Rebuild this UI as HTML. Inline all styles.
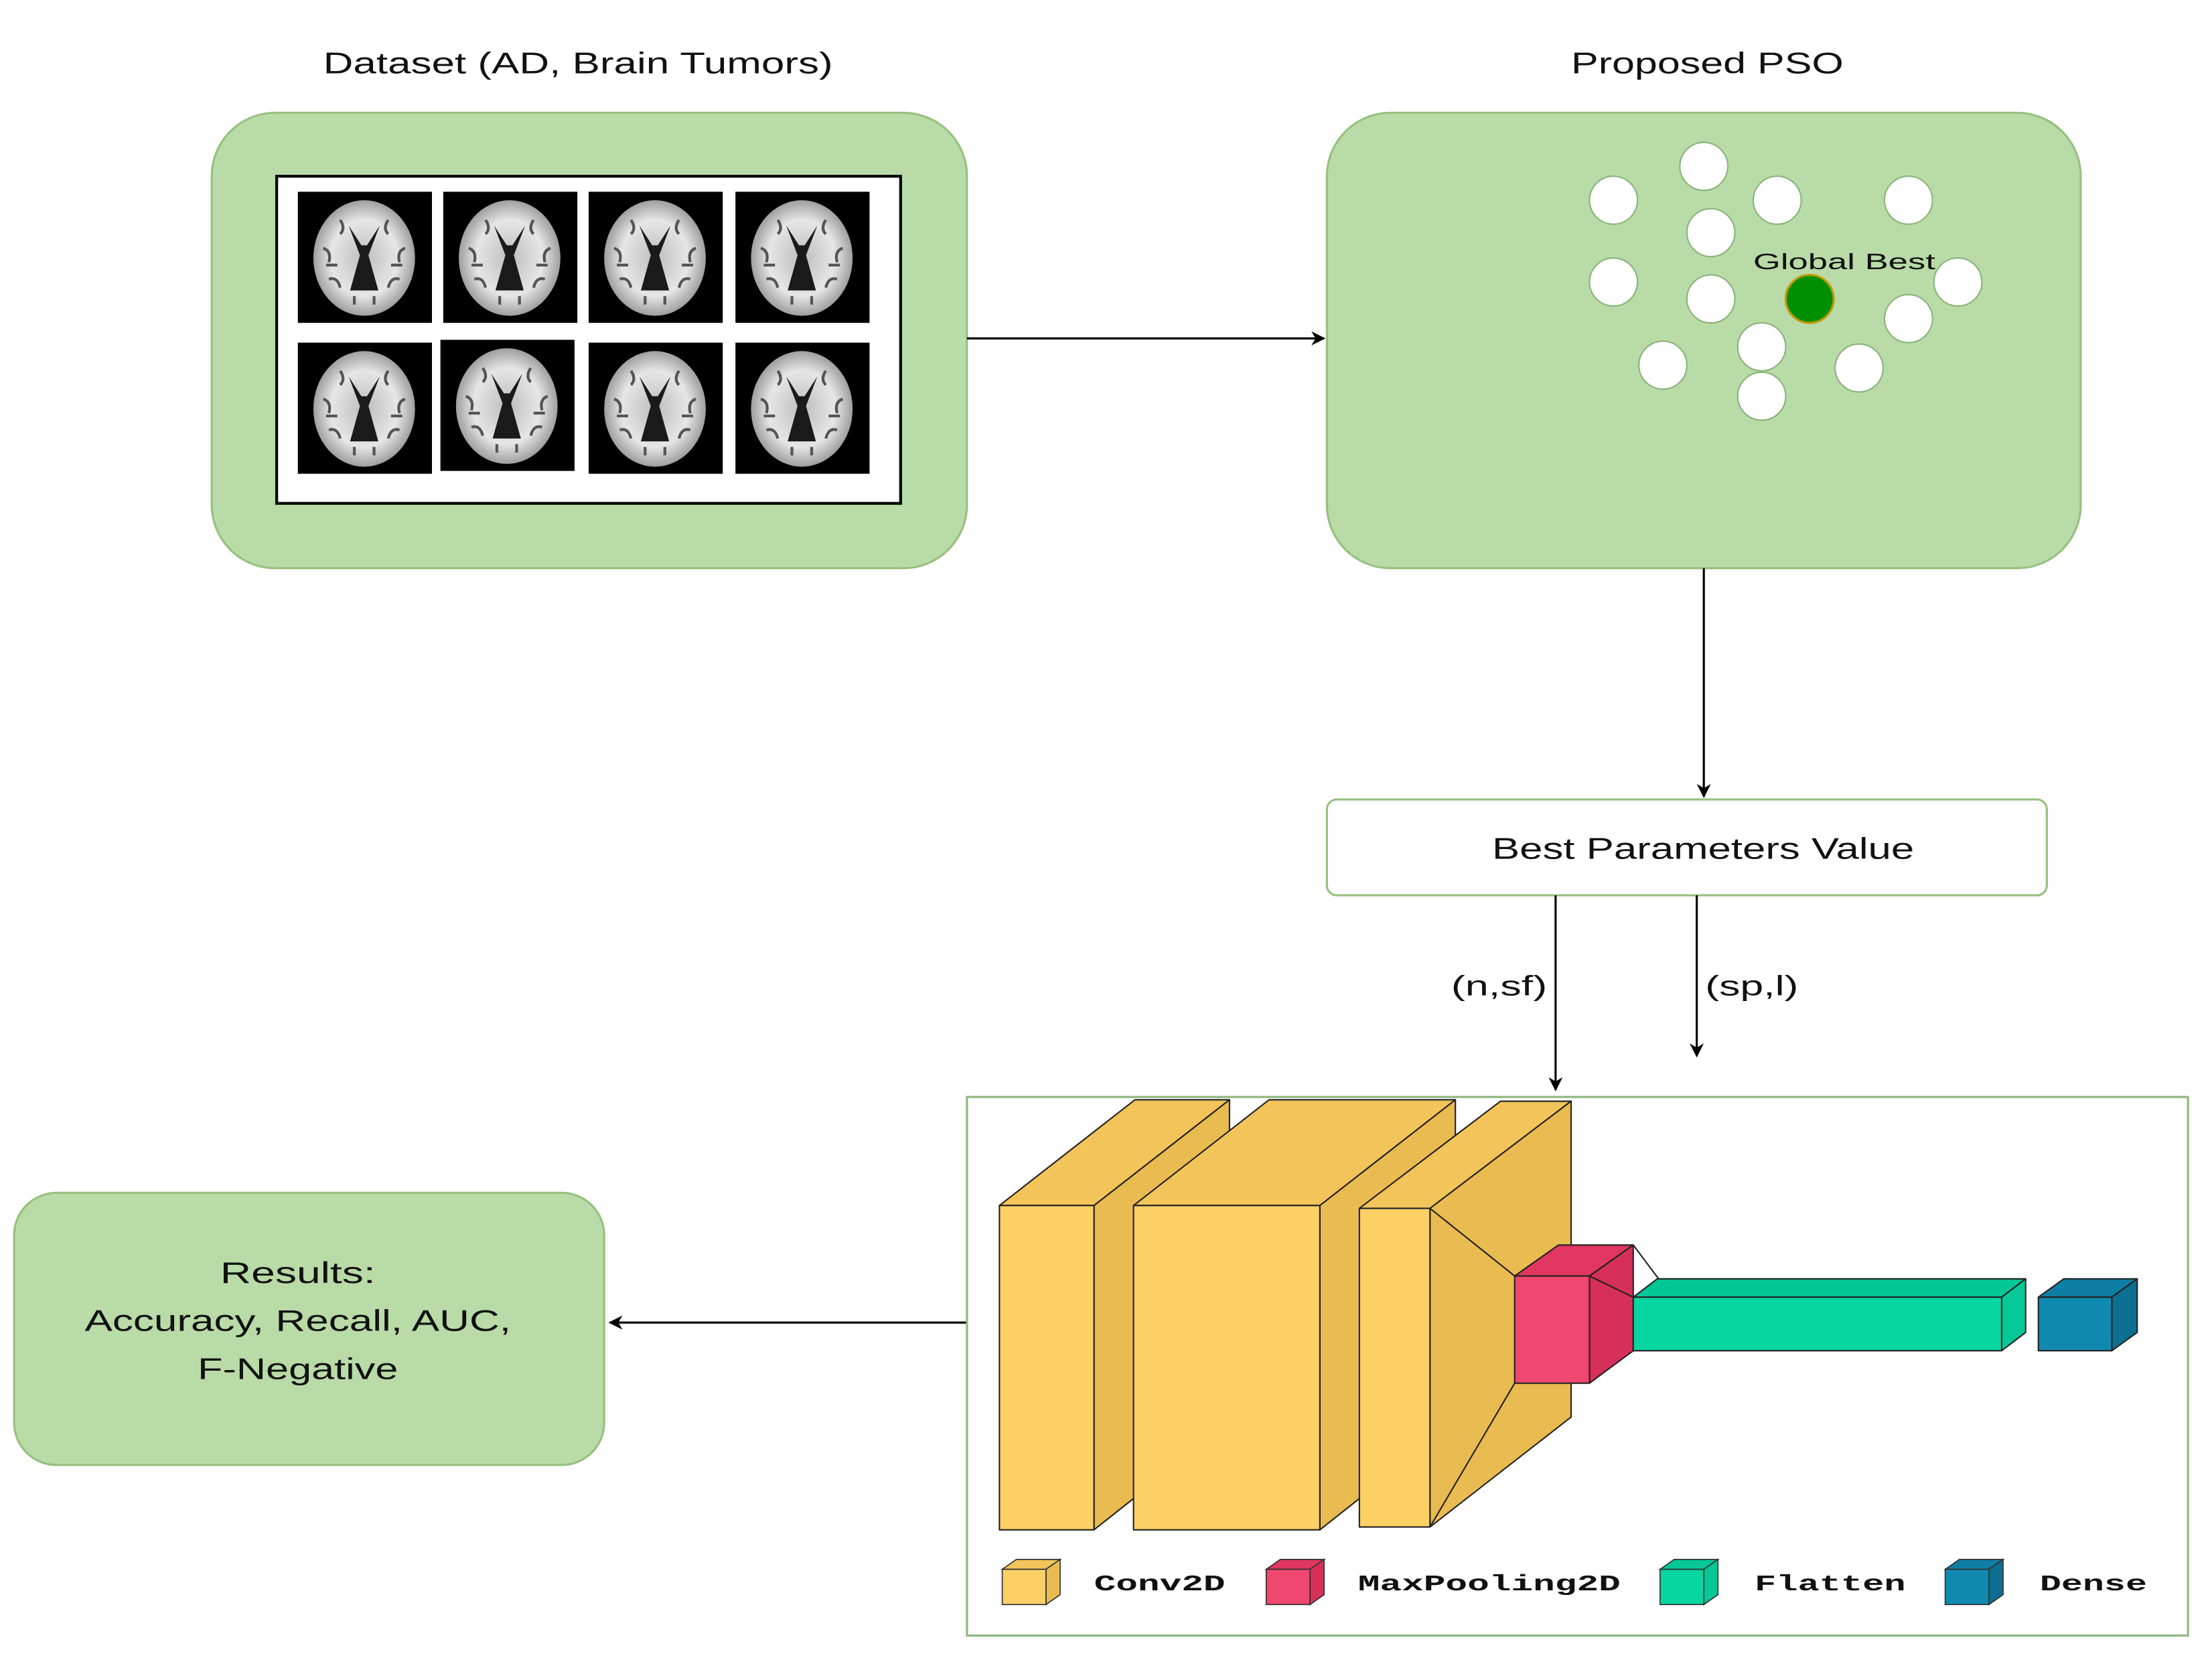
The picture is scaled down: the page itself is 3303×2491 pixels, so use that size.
<!DOCTYPE html>
<html><head><meta charset="utf-8"><style>
html,body{margin:0;padding:0;background:#fff;}
svg{display:block;}
text{font-family:"Liberation Sans",sans-serif;fill:#111;}
.mono{font-family:"Liberation Mono",monospace;font-weight:bold;font-size:16px;}
</style></head><body>
<svg width="3303" height="2491" viewBox="0 0 1567 1183" preserveAspectRatio="none" xmlns="http://www.w3.org/2000/svg">
<defs>
<marker id="ar" markerWidth="10" markerHeight="10" refX="9" refY="5" orient="auto" markerUnits="userSpaceOnUse"><path d="M0,0 L10,5 L0,10 L3,5 Z" fill="#000"/></marker>
<radialGradient id="bg" cx="50%" cy="50%" r="55%"><stop offset="0" stop-color="#bdbdbd"/><stop offset="0.6" stop-color="#e6e6e6"/><stop offset="1" stop-color="#8a8a8a"/></radialGradient>
<g id="brain">
<rect x="0" y="0" width="95" height="93" fill="#000"/>
<ellipse cx="47" cy="47" rx="36" ry="41" fill="url(#bg)"/>
<path d="M36,24 L44,45 L37,70 L57,70 L50,45 L58,24 L49,38 L45,38 Z" fill="#1a1a1a"/>
<path d="M18,40 q6,2 4,10 M76,40 q-6,2 -4,10 M22,62 q6,-2 8,6 M72,62 q-6,-2 -8,6 M30,20 q4,6 0,10 M64,20 q-4,6 0,10 M20,52 h8 M66,52 h8 M40,80 v-6 M54,80 v-6" stroke="#555" stroke-width="2" fill="none"/>
</g>
</defs>

<text x="229" y="52" font-size="21" textLength="361" lengthAdjust="spacingAndGlyphs">Dataset (AD, Brain Tumors)</text>
<text x="1113" y="52" font-size="21" textLength="193" lengthAdjust="spacingAndGlyphs">Proposed PSO</text>

<rect x="150" y="80" width="535" height="323" rx="45" fill="#b9dba7" stroke="#97c07f" stroke-width="1.5"/>
<rect x="196" y="125" width="442" height="232" fill="#fff" stroke="#000" stroke-width="2"/>
<use href="#brain" x="211" y="136"/><use href="#brain" x="314" y="136"/><use href="#brain" x="417" y="136"/><use href="#brain" x="521" y="136"/>
<use href="#brain" x="211" y="243"/><use href="#brain" x="312" y="241"/><use href="#brain" x="417" y="243"/><use href="#brain" x="521" y="243"/>

<line x1="685" y1="240" x2="938" y2="240" stroke="#000" stroke-width="1.5" marker-end="url(#ar)"/>

<rect x="940" y="80" width="534" height="323" rx="45" fill="#b9dba7" stroke="#97c07f" stroke-width="1.5"/>
<g fill="#fff" stroke="#8ab37a" stroke-width="1">
<ellipse cx="1143" cy="142" rx="17" ry="17"/><ellipse cx="1207" cy="118" rx="17" ry="17"/><ellipse cx="1259" cy="142" rx="17" ry="17"/><ellipse cx="1352" cy="142" rx="17" ry="17"/>
<ellipse cx="1212" cy="165" rx="17" ry="17"/><ellipse cx="1143" cy="200" rx="17" ry="17"/><ellipse cx="1212" cy="212" rx="17" ry="17"/><ellipse cx="1387" cy="200" rx="17" ry="17"/>
<ellipse cx="1352" cy="226" rx="17" ry="17"/><ellipse cx="1248" cy="246" rx="17" ry="17"/><ellipse cx="1178" cy="259" rx="17" ry="17"/><ellipse cx="1317" cy="261" rx="17" ry="17"/><ellipse cx="1248" cy="281" rx="17" ry="17"/>
</g>
<ellipse cx="1282" cy="212" rx="17" ry="17" fill="#008f00" stroke="#c09a00" stroke-width="1.5"/>
<text x="1242" y="191" font-size="16" textLength="129" lengthAdjust="spacingAndGlyphs">Global Best</text>

<line x1="1207" y1="403" x2="1207" y2="565" stroke="#000" stroke-width="1.5" marker-end="url(#ar)"/>

<rect x="940" y="567" width="510" height="68" rx="7" fill="#fff" stroke="#97c07f" stroke-width="1.5"/>
<text x="1057" y="609" font-size="21" textLength="299" lengthAdjust="spacingAndGlyphs">Best Parameters Value</text>

<line x1="1102" y1="635" x2="1102" y2="773" stroke="#000" stroke-width="1.5" marker-end="url(#ar)"/>
<line x1="1202" y1="635" x2="1202" y2="749" stroke="#000" stroke-width="1.5" marker-end="url(#ar)"/>
<text x="1028" y="706" font-size="20" textLength="68" lengthAdjust="spacingAndGlyphs">(n,sf)</text>
<text x="1208" y="706" font-size="20" textLength="66" lengthAdjust="spacingAndGlyphs">(sp,l)</text>

<rect x="10" y="846" width="418" height="193" rx="30" fill="#b9dba7" stroke="#97c07f" stroke-width="1.5"/>
<text x="156" y="910" font-size="21" textLength="110" lengthAdjust="spacingAndGlyphs">Results:</text>
<text x="60" y="944" font-size="21" textLength="302" lengthAdjust="spacingAndGlyphs">Accuracy, Recall, AUC,</text>
<text x="140" y="978" font-size="21" textLength="142" lengthAdjust="spacingAndGlyphs">F-Negative</text>
<line x1="685" y1="938" x2="432" y2="938" stroke="#000" stroke-width="1.5" marker-end="url(#ar)"/>

<rect x="685" y="778" width="865" height="382" fill="#fff" stroke="#8fb77f" stroke-width="1.5"/>
<g stroke="#222" stroke-width="1" stroke-linejoin="round">
<polygon points="708,855 775,855 871,780 804,780" fill="#f2c45a"/>
<polygon points="775,855 871,780 871,1009 775,1085" fill="#e9bb50"/>
<rect x="708" y="855" width="67" height="230" fill="#fdd066"/>
<polygon points="803,855 935,855 1031,780 899,780" fill="#f2c45a"/>
<polygon points="935,855 1031,780 1031,1009 935,1085" fill="#e9bb50"/>
<rect x="803" y="855" width="132" height="230" fill="#fdd066"/>
<polygon points="963,857 1013,857 1113,781 1063,781" fill="#f2c45a"/>
<polygon points="1013,857 1113,781 1113,1005 1013,1083" fill="#e9bb50"/>
<rect x="963" y="857" width="50" height="226" fill="#fdd066"/>
<line x1="1013" y1="857" x2="1073" y2="905"/>
<line x1="1013" y1="1083" x2="1073" y2="981"/>
<polygon points="1073,905 1126,905 1157,883 1104,883" fill="#e0365f"/>
<polygon points="1126,905 1157,883 1157,958 1126,981" fill="#d62f58"/>
<rect x="1073" y="905" width="53" height="76" fill="#ef476f"/>
<polyline points="1157,883 1175,907" fill="none"/>
<line x1="1126" y1="905" x2="1157" y2="920"/>
<polygon points="1157,920 1418,920 1435,907 1174,907" fill="#03c895"/>
<polygon points="1418,920 1435,907 1435,945 1418,958" fill="#05c896"/>
<rect x="1157" y="920" width="261" height="38" fill="#06d6a0"/>
<polygon points="1444,920 1496,920 1514,907 1462,907" fill="#0f7ea5"/>
<polygon points="1496,920 1514,907 1514,945 1496,958" fill="#0d6f92"/>
<rect x="1444" y="920" width="52" height="38" fill="#118ab2"/>
</g>
<g stroke="#333" stroke-width="0.8">
<polygon points="710,1113 741,1113 751,1106 720,1106" fill="#f2c45a"/><polygon points="741,1113 751,1106 751,1131 741,1138" fill="#e9bb50"/><rect x="710" y="1113" width="31" height="25" fill="#fdd066"/>
<polygon points="897,1113 928,1113 938,1106 907,1106" fill="#e0365f"/><polygon points="928,1113 938,1106 938,1131 928,1138" fill="#d62f58"/><rect x="897" y="1113" width="31" height="25" fill="#ef476f"/>
<polygon points="1176,1113 1207,1113 1217,1106 1186,1106" fill="#03c895"/><polygon points="1207,1113 1217,1106 1217,1131 1207,1138" fill="#05c896"/><rect x="1176" y="1113" width="31" height="25" fill="#06d6a0"/>
<polygon points="1378,1113 1409,1113 1419,1106 1388,1106" fill="#0f7ea5"/><polygon points="1409,1113 1419,1106 1419,1131 1409,1138" fill="#0d6f92"/><rect x="1378" y="1113" width="31" height="25" fill="#118ab2"/>
</g>
<text class="mono" x="775" y="1128" textLength="93" lengthAdjust="spacingAndGlyphs">Conv2D</text>
<text class="mono" x="962" y="1128" textLength="186" lengthAdjust="spacingAndGlyphs">MaxPooling2D</text>
<text class="mono" x="1243" y="1128" textLength="107" lengthAdjust="spacingAndGlyphs">Flatten</text>
<text class="mono" x="1445" y="1128" textLength="76" lengthAdjust="spacingAndGlyphs">Dense</text>
</svg>
</body></html>
